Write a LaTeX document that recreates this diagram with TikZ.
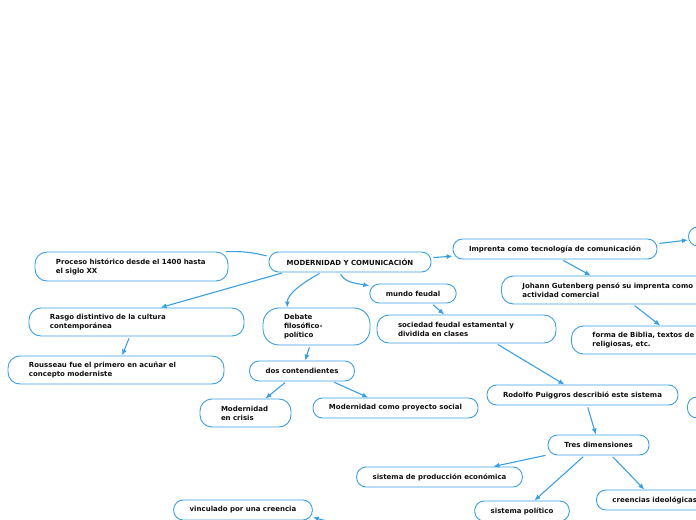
\documentclass[tikz,border=0pt]{standalone}
\usepackage{fontspec}
\setmainfont{DejaVu Sans}
\usepackage{xcolor}
\usepackage{tikz}
\usetikzlibrary{arrows.meta}
\definecolor{mapblue}{HTML}{3A9FE2}
\definecolor{maptext}{HTML}{101010}

\begin{document}
\begin{tikzpicture}[x=1bp, y=-1bp,
  every node/.style={font=\fontsize{7bp}{9bp}\selectfont\bfseries, text=maptext},
  pill/.style={draw=mapblue, line width=0.9bp, fill=white, rounded corners=9.5bp,
    minimum height=20bp, inner xsep=16bp, inner ysep=0bp, align=center},
  card/.style={draw=mapblue, line width=0.9bp, fill=white, rounded corners=12bp,
    minimum height=28bp, inner xsep=21bp, inner ysep=3bp, align=left},
  link/.style={draw=mapblue, line width=1.1bp, shorten <=2bp, -{Latex[length=6bp,width=5bp]}}]
  \useasboundingbox (0,0) rectangle (696,520);
  \clip (0,0) rectangle (696,520);

  % Nodo central
  \node[pill, minimum width=162bp] (modern) at (350,262) {MODERNIDAD Y COMUNICACIÓN};

  % Rama izquierda
  \node[card, text width=151bp, minimum height=29bp] (proceso) at (131.5,266.5) {Proceso histórico desde el 1400 hasta\\el siglo XX};
  \node[card, text width=173bp] (rasgo) at (136.5,322) {Rasgo distintivo de la cultura\\contemporánea};
  \node[card, text width=174bp] (rousseau) at (116,370) {Rousseau fue el primero en acuñar el\\concepto moderniste};

  % Debate y contendientes
  \node[card, text width=65bp, minimum height=37bp, rounded corners=16bp] (debate) at (316.5,326.5) {Debate\\filosófico-\\político};
  \node[pill, minimum width=104bp] (dos) at (302,371) {dos contendientes};
  \node[card, text width=49bp] (crisis) at (245.5,413) {Modernidad\\en crisis};
  \node[pill, minimum width=163bp] (proyecto) at (395.5,408) {Modernidad como proyecto social};

  % Mundo feudal
  \node[pill, minimum width=86bp, minimum height=19bp] (mundo) at (413,293.5) {mundo feudal};
  \node[card, text width=137bp] (sociedad) at (466.5,329) {sociedad feudal estamental y\\dividida en clases};
  \node[pill, minimum width=189bp] (rodolfo) at (582.5,395) {Rodolfo Puiggros describió este sistema};
  \node[pill, minimum width=100bp, minimum height=21bp, anchor=west] (rodolfoSig) at (687,407.5) {};
  \node[pill, minimum width=101bp] (tres) at (598.5,445) {Tres dimensiones};
  \node[pill, minimum width=165bp] (produccion) at (439.5,477) {sistema de producción económica};
  \node[pill, minimum width=94bp] (politico) at (522,511) {sistema político};
  \node[pill, minimum width=114bp, anchor=west] (creencias) at (596,500) {creencias ideológicas};
  \node[pill, minimum width=138bp] (vinculado) at (243,510) {vinculado por una creencia};

  % Imprenta
  \node[pill, minimum width=204bp] (imprenta) at (555,249) {Imprenta como tecnología de comunicación};
  \node[pill, minimum width=100bp, minimum height=19bp, anchor=west] (imprentaSig) at (688,236.5) {};
  \node[card, text width=175bp, anchor=west] (johann) at (501,290) {Johann Gutenberg pensó su imprenta como\\actividad comercial};
  \node[card, text width=180bp, anchor=west] (forma) at (571,340) {forma de Biblia, textos de\\religiosas, etc.};

  % Conectores
  \draw[link, -] (modern.176) .. controls +(-18,-4) and +(22,0) .. (proceso.9.4);
  \draw[link] (modern.189.5) -- (rasgo.31);
  \draw[link] (rasgo.245) -- (rousseau.67);
  \draw[link] (modern.200) .. controls +(-18,10) and +(0,-14) .. (debate.147);
  \draw[link] (modern.225) .. controls +(6,10) and +(-16,-3) .. (mundo.170);
  \draw[link] (modern.3) -- (imprenta.184);
  \draw[link] (mundo.332) -- (sociedad.147);
  \draw[link] (debate.251) -- (dos.73);
  \draw[link] (dos.214) -- (crisis.36);
  \draw[link] (dos.341) -- (proyecto.159);
  \draw[link] (imprenta.3) -- (imprentaSig.184);
  \draw[link] (imprenta.302) -- (johann.143);
  \draw[link] (johann.328) -- (forma.147);
  \draw[link] (sociedad.334) -- (rodolfo.150);
  \draw[link] (rodolfo.294) -- (tres.104);
  \draw[link] (tres.191) -- (produccion.11);
  \draw[link] (tres.217) -- (politico.40);
  \draw[link] (tres.321) -- (creencias.135);
  \draw[link] (politico.192) .. controls +(-25,12) and +(45,12) .. (vinculado.354);
\end{tikzpicture}
\end{document}
